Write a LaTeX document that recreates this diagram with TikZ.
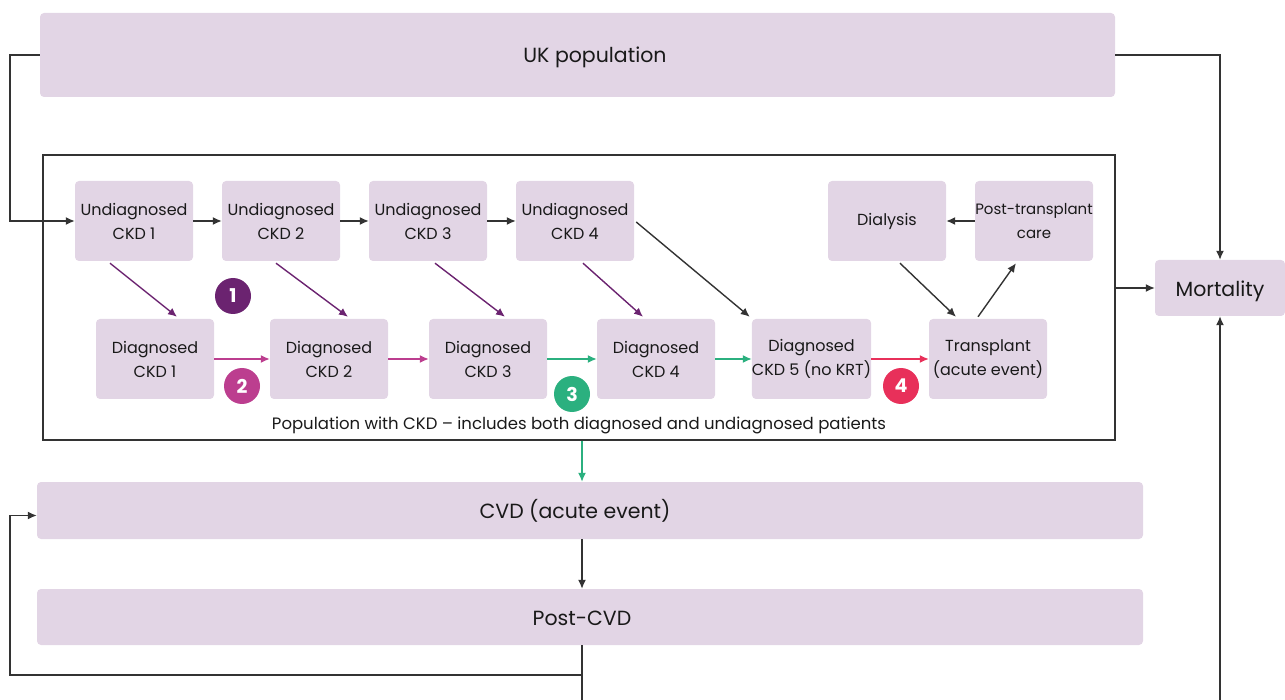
\documentclass[tikz,border=0pt]{standalone}
\usepackage{fontspec}
\setmainfont{Poppins}
\usetikzlibrary{arrows.meta,calc}
\definecolor{boxfill}{HTML}{E2D5E5}
\definecolor{dk}{HTML}{333333}
\definecolor{cpur}{HTML}{6B2370}
\definecolor{cmag}{HTML}{BC3E8F}
\definecolor{cgrn}{HTML}{2BB07F}
\definecolor{cred}{HTML}{E8305A}
\tikzset{
  box/.style={fill=boxfill, rounded corners=4pt, inner sep=0pt, align=center, font=\fontsize{16}{24}\selectfont, text=black!90},
  small/.style={box, minimum width=118pt, minimum height=80pt},
  wide/.style={fill=boxfill, rounded corners=4pt, inner sep=0pt},
  lbl/.style={inner sep=0pt, font=\fontsize{20.5}{22}\selectfont, text=black!90},
  conn/.style={draw=dk, line width=1.4pt, -{Latex[length=9pt,width=8pt]}},
  cconn/.style={line width=1.4pt, -{Latex[length=9pt,width=8pt]}},
  num/.style={circle, minimum size=36pt, inner sep=0pt, text=white, font=\fontsize{19}{19}\selectfont\bfseries},
}
\begin{document}
\begin{tikzpicture}[x=1pt,y=-1pt]
\useasboundingbox (0,0) rectangle (1285,700);
% big boxes
\node[wide, minimum width=1075pt, minimum height=84pt] (uk) at (577.5,55) {};
\node[lbl] (ukl) at (595,57) {UK population};
\node[draw=dk, line width=1.5pt, minimum width=1072pt, minimum height=285pt, inner sep=0pt] (frame) at (579,297.5) {};
\node[wide, minimum width=1106pt, minimum height=57pt] (cvd) at (590,510.5) {};
\node[lbl] (cvdl) at (575,511) {CVD (acute event)};
\node[wide, minimum width=1106pt, minimum height=56pt] (pcvd) at (590,617) {};
\node[lbl] (pcvdl) at (582,618) {Post-CVD};
\node[wide, minimum width=130pt, minimum height=56pt] (mort) at (1220,288) {};
\node[lbl] (mortl) at (1220,291) {Mortality};
% undiagnosed row
\node[small] (u1) at (134,221) {Undiagnosed\\CKD 1};
\node[small] (u2) at (281,221) {Undiagnosed\\CKD 2};
\node[small] (u3) at (428,221) {Undiagnosed\\CKD 3};
\node[small] (u4) at (575,221) {Undiagnosed\\CKD 4};
\node[small] (dia) at (887,221) {Dialysis};
\node[small, font=\fontsize{15}{24}\selectfont] (post) at (1034,221) {Post-transplant\\care};
% diagnosed row
\node[small] (d1) at (155,359) {Diagnosed\\CKD 1};
\node[small] (d2) at (329,359) {Diagnosed\\CKD 2};
\node[small] (d3) at (488,359) {Diagnosed\\CKD 3};
\node[small] (d4) at (656,359) {Diagnosed\\CKD 4};
\node[small] (d5) at (811.5,359) {Diagnosed\\CKD 5 (no KRT)};
\node[small] (tr) at (988,359) {Transplant\\(acute event)};
\node[inner sep=0pt, font=\fontsize{16.5}{18}\selectfont, text=black!90] (poplbl) at (579,425) {Population with CKD -- includes both diagnosed and undiagnosed patients};
% numbers
\node[num, fill=cpur] (n1) at (233,296) {1};
\node[num, fill=cmag] (n2) at (242,386) {2};
\node[num, fill=cgrn] (n3) at (572,394) {3};
\node[num, fill=cred] (n4) at (901,386) {4};
% connectors
\draw[conn] (uk.west) -- ++(-30,0) |- (u1.west);
\draw[conn] (uk.east) -| (mort.north);
\draw[conn] (mort.west -| frame.east) -- (mort.west);
\coordinate (mb) at (1220,700);
\draw[conn] (mb) -- (mort.south);
\draw[conn] (u1) -- (u2);
\draw[conn] (u2) -- (u3);
\draw[conn] (u3) -- (u4);
\draw[conn] (post.west) -- (dia.east);
\draw[cconn, cpur] ($(u1.south)+(-24,2)$) -- ($(d1.north)+(22,-2)$);
\draw[cconn, cpur] ($(u2.south)+(-5,2)$) -- ($(d2.north)+(19,-2)$);
\draw[cconn, cpur] ($(u3.south)+(7,2)$) -- ($(d3.north)+(17,-2)$);
\draw[cconn, cpur] ($(u4.south)+(8,2)$) -- ($(d4.north)+(-13,-2)$);
\draw[conn] ($(u4.east)+(2,1)$) -- ($(d5.north west)+(-2,-2)$);
\draw[conn] ($(dia.south)+(13,2)$) -- ($(tr.north)+(-32,-2)$);
\draw[conn] ($(tr.north)+(-10,-2)$) -- ($(post.south)+(-18,2)$);
\draw[cconn, cmag] (d1) -- (d2);
\draw[cconn, cmag] (d2) -- (d3);
\draw[cconn, cgrn] (d3) -- (d4);
\draw[cconn, cgrn] (d4) -- (d5);
\draw[cconn, cred] (d5) -- (tr);
\draw[cconn, cgrn] (frame.south -| pcvdl) -- (cvd.north -| pcvdl);
\draw[conn] (cvd.south -| pcvdl) -- (pcvd.north -| pcvdl);
\coordinate (pb) at (582,700);
\coordinate (br) at (582,675);
\draw[draw=dk, line width=1.4pt] (pcvd.south -| pcvdl) -- (pb);
\draw[conn] (br) -- (10,675) |- ($(cvd.west)+(0,5)$);
\end{tikzpicture}
\end{document}
